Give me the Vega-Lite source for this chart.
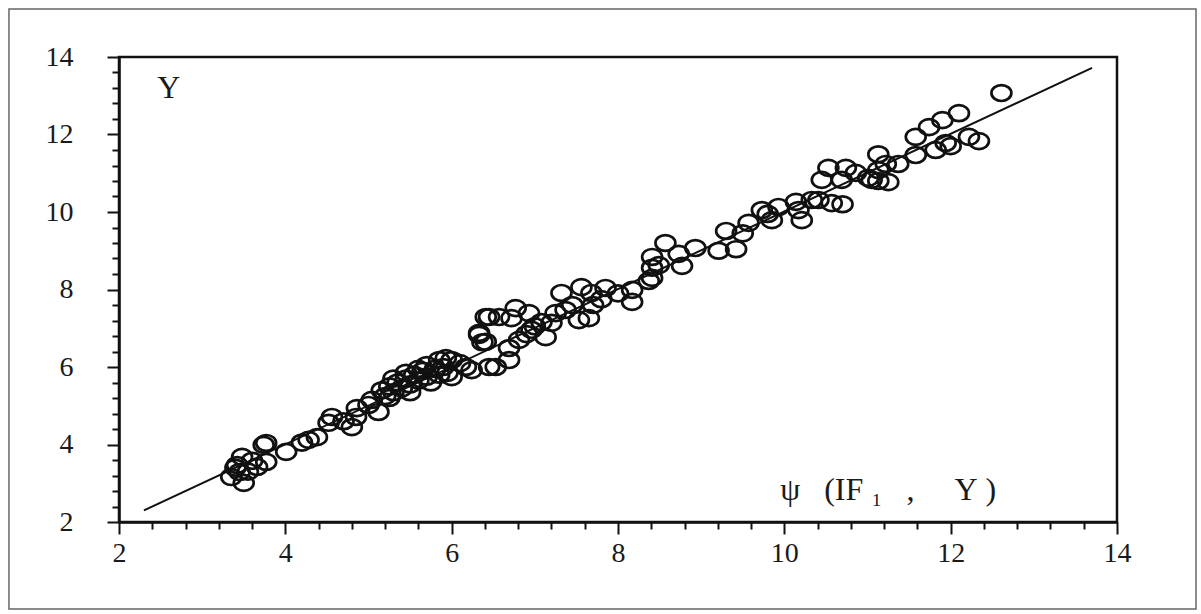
{
  "$schema": "https://vega.github.io/schema/vega-lite/v6.json",
  "width": 998,
  "height": 465,
  "autosize": {"type": "none"},
  "padding": {"left": 119, "top": 57, "right": 84, "bottom": 92},
  "background": "white",
  "config": {
    "view": {"stroke": "#111", "strokeWidth": 2.5},
    "font": "Liberation Serif"
  },
  "resolve": {"axis": {"x": "independent", "y": "independent"}},
  "datasets": {
    "points": [
      {"x":3.42,"y":3.47},{"x":3.48,"y":3.68},{"x":3.35,"y":3.16},{"x":3.50,"y":3.01},{"x":3.66,"y":3.42},
      {"x":3.77,"y":3.55},{"x":3.45,"y":3.29},{"x":3.40,"y":3.40},{"x":3.60,"y":3.58},{"x":3.55,"y":3.30},
      {"x":3.77,"y":4.04},{"x":3.74,"y":3.99},{"x":4.01,"y":3.81},{"x":4.28,"y":4.12},{"x":4.38,"y":4.19},
      {"x":4.20,"y":4.05},{"x":4.56,"y":4.71},{"x":4.52,"y":4.56},{"x":4.80,"y":4.45},{"x":4.85,"y":4.71},
      {"x":4.86,"y":4.94},{"x":4.70,"y":4.60},{"x":5.04,"y":5.15},{"x":5.12,"y":4.84},{"x":5.00,"y":5.02},
      {"x":5.20,"y":5.25},{"x":5.16,"y":5.40},{"x":5.25,"y":5.50},{"x":5.30,"y":5.35},{"x":5.35,"y":5.60},
      {"x":5.40,"y":5.45},{"x":5.45,"y":5.70},{"x":5.50,"y":5.55},{"x":5.55,"y":5.80},{"x":5.60,"y":5.65},
      {"x":5.65,"y":5.90},{"x":5.70,"y":5.75},{"x":5.75,"y":5.60},{"x":5.80,"y":5.95},{"x":5.85,"y":5.80},
      {"x":5.45,"y":5.85},{"x":5.30,"y":5.70},{"x":5.60,"y":5.95},{"x":5.90,"y":6.00},{"x":5.70,"y":6.05},
      {"x":5.25,"y":5.20},{"x":5.50,"y":5.35},{"x":5.95,"y":5.85},{"x":5.93,"y":6.23},{"x":6.00,"y":5.74},
      {"x":6.00,"y":6.18},{"x":5.85,"y":6.18},{"x":6.17,"y":6.00},{"x":6.24,"y":5.92},{"x":6.10,"y":6.10},
      {"x":6.33,"y":6.88},{"x":6.37,"y":6.64},{"x":6.45,"y":7.29},{"x":6.45,"y":6.00},{"x":6.53,"y":6.00},
      {"x":6.41,"y":6.65},{"x":6.33,"y":6.83},{"x":6.41,"y":7.29},{"x":6.57,"y":7.29},{"x":6.72,"y":7.26},
      {"x":6.77,"y":7.52},{"x":6.93,"y":7.39},{"x":6.69,"y":6.49},{"x":6.69,"y":6.18},{"x":6.81,"y":6.70},
      {"x":6.96,"y":6.96},{"x":6.90,"y":6.85},{"x":7.08,"y":7.16},{"x":7.00,"y":7.05},{"x":7.13,"y":6.77},
      {"x":7.20,"y":7.14},{"x":7.25,"y":7.39},{"x":7.32,"y":7.91},{"x":7.37,"y":7.47},{"x":7.45,"y":7.60},
      {"x":7.53,"y":7.21},{"x":7.56,"y":8.06},{"x":7.65,"y":7.26},{"x":7.68,"y":7.91},{"x":7.70,"y":7.60},
      {"x":7.85,"y":8.04},{"x":7.80,"y":7.75},{"x":8.17,"y":7.99},{"x":8.17,"y":7.68},{"x":8.00,"y":7.90},
      {"x":8.41,"y":8.30},{"x":8.49,"y":8.63},{"x":8.37,"y":8.22},{"x":8.41,"y":8.56},{"x":8.41,"y":8.84},
      {"x":8.57,"y":9.20},{"x":8.73,"y":8.92},{"x":8.77,"y":8.61},{"x":8.93,"y":9.07},{"x":9.21,"y":9.00},
      {"x":9.42,"y":9.04},{"x":9.30,"y":9.51},{"x":9.57,"y":9.72},{"x":9.50,"y":9.45},{"x":9.73,"y":10.05},
      {"x":9.85,"y":9.79},{"x":9.93,"y":10.13},{"x":9.80,"y":9.95},{"x":10.14,"y":10.26},{"x":10.21,"y":9.79},
      {"x":10.17,"y":10.05},{"x":10.41,"y":10.31},{"x":10.57,"y":10.23},{"x":10.70,"y":10.20},{"x":10.33,"y":10.31},
      {"x":10.45,"y":10.83},{"x":10.69,"y":10.83},{"x":10.53,"y":11.14},{"x":10.74,"y":11.14},{"x":10.86,"y":11.01},
      {"x":11.05,"y":10.83},{"x":11.13,"y":11.08},{"x":11.25,"y":10.77},{"x":11.13,"y":11.49},{"x":11.22,"y":11.24},
      {"x":11.37,"y":11.24},{"x":11.01,"y":10.88},{"x":11.13,"y":10.80},{"x":11.58,"y":11.47},{"x":11.58,"y":11.94},
      {"x":11.74,"y":12.19},{"x":11.90,"y":12.37},{"x":12.10,"y":12.55},{"x":11.82,"y":11.60},{"x":11.94,"y":11.78},
      {"x":12.22,"y":11.94},{"x":12.34,"y":11.83},{"x":12.00,"y":11.70},{"x":12.61,"y":13.07}
    ],
    "fit": [{"x": 2.3, "y": 2.3}, {"x": 13.7, "y": 13.72}],
    "labels": [
      {"label": "Y", "x": 2.46, "y": 13.2},
      {"label": "ψ\u00a0\u00a0\u00a0(IF\u00a0₁\u00a0\u00a0\u00a0,\u00a0\u00a0\u00a0\u00a0\u00a0Y\u00a0)", "x": 9.95, "y": 2.83}
    ]
  },
  "layer": [
    {
      "data": {"name": "points"},
      "mark": {"type": "point", "shape": "M-1.15,0A1.15,0.92,0,1,0,1.15,0A1.15,0.92,0,1,0,-1.15,0Z", "filled": false, "stroke": "#111", "strokeWidth": 2.7, "size": 300, "opacity": 1},
      "encoding": {
        "x": {
          "field": "x", "type": "quantitative",
          "scale": {"domain": [2, 14], "nice": false, "zero": false},
          "axis": {
            "title": null, "orient": "bottom",
            "values": [2, 4, 6, 8, 10, 12, 14],
            "tickSize": 12, "tickColor": "#111", "tickWidth": 2,
            "domainColor": "#111", "domainWidth": 2.5,
            "grid": false, "format": "d",
            "labelFont": "Liberation Serif", "labelFontSize": 28, "labelColor": "#1a1a1a",
            "labelPadding": 5, "labelOverlap": false, "labelFlush": false, "labelBound": false
          }
        },
        "y": {
          "field": "y", "type": "quantitative",
          "scale": {"domain": [2, 14], "nice": false, "zero": false},
          "axis": {
            "title": null, "orient": "left",
            "values": [2, 4, 6, 8, 10, 12, 14],
            "tickSize": 12, "tickColor": "#111", "tickWidth": 2,
            "domainColor": "#111", "domainWidth": 2.5,
            "grid": false, "format": "d",
            "labelFont": "Liberation Serif", "labelFontSize": 28, "labelColor": "#1a1a1a",
            "labelPadding": 34, "labelOverlap": false, "labelFlush": false, "labelBound": false
          }
        }
      }
    },
    {
      "data": {"name": "fit"},
      "mark": {"type": "line", "color": "#111", "strokeWidth": 2},
      "encoding": {
        "x": {
          "field": "x", "type": "quantitative",
          "axis": {
            "title": null, "orient": "bottom",
            "values": [2.4,2.8,3.2,3.6,4.4,4.8,5.2,5.6,6.4,6.8,7.2,7.6,8.4,8.8,9.2,9.6,10.4,10.8,11.2,11.6,12.4,12.8,13.2,13.6],
            "tickSize": 7, "tickColor": "#111", "tickWidth": 2,
            "domain": false, "grid": false, "labels": false
          }
        },
        "y": {
          "field": "y", "type": "quantitative",
          "axis": {
            "title": null, "orient": "left",
            "values": [2.4,2.8,3.2,3.6,4.4,4.8,5.2,5.6,6.4,6.8,7.2,7.6,8.4,8.8,9.2,9.6,10.4,10.8,11.2,11.6,12.4,12.8,13.2,13.6],
            "tickSize": 7, "tickColor": "#111", "tickWidth": 2,
            "domain": false, "grid": false, "labels": false
          }
        }
      }
    },
    {
      "data": {"values": [{}]},
      "mark": {"type": "rect", "filled": false, "stroke": "#666", "strokeWidth": 1.5, "clip": false},
      "encoding": {
        "x": {"datum": 0.677, "type": "quantitative", "axis": null},
        "x2": {"datum": 14.95},
        "y": {"datum": 15.24, "type": "quantitative", "axis": null},
        "y2": {"datum": -0.245}
      }
    },
    {
      "data": {"name": "labels"},
      "mark": {"type": "text", "font": "Liberation Serif", "fontSize": 32, "align": "left", "baseline": "middle", "color": "#1a1a1a"},
      "encoding": {
        "x": {"field": "x", "type": "quantitative", "axis": null},
        "y": {"field": "y", "type": "quantitative", "axis": null},
        "text": {"field": "label"}
      }
    }
  ]
}
